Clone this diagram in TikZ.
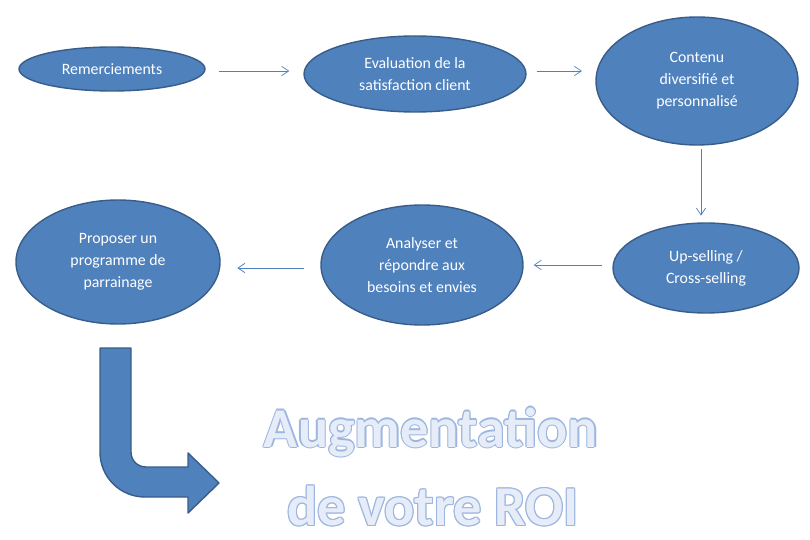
\documentclass[tikz,border=0pt]{standalone}
\usepackage{fontspec}
\setmainfont{Carlito}
\usetikzlibrary{shapes.geometric,arrows.meta,positioning,calc}
\definecolor{stepfill}{HTML}{4F81BD}
\definecolor{stepline}{HTML}{385D8A}
\definecolor{roifill}{HTML}{E6EDF8}
\definecolor{roiline}{HTML}{9DB6E0}
\newcommand{\roitext}[3]{%
  \foreach \dx/\dy in {1/0,-1/0,0/1,0/-1,.7/.7,-.7/.7,.7/-.7,-.7/-.7}
    \node[roi, text=roiline] at ($(#1,#2)+(\dx pt,\dy pt)$) {#3};
  \node[roi, text=roifill] at (#1,#2) {#3};}
\begin{document}
\begin{tikzpicture}[x=0.03cm,y=-0.03cm,
  stage/.style={ellipse, draw=stepline, line width=1.2pt, fill=stepfill,
    text=white, align=center, inner sep=0pt,
    font=\fontsize{13.5}{18.7}\selectfont},
  flow/.style={-{Straight Barb[length=6pt,width=8pt]}, stepfill, line width=0.6pt},
  roi/.style={font=\fontsize{48}{52}\selectfont\bfseries, inner sep=0pt}]
  \useasboundingbox (0,0) rectangle (810,540);

  % steps
  \node[stage, minimum width=186*0.03cm, minimum height=44*0.03cm] (merci) at (112,69) {Remerciements};
  \node[stage, minimum width=222*0.03cm, minimum height=76*0.03cm] (eval) at (415,74) {Evaluation de la\\satisfaction client};
  \node[stage, minimum width=202*0.03cm, minimum height=128*0.03cm] (contenu) at (697,81) {Contenu\\diversifié et\\personnalisé};
  \node[stage, minimum width=186*0.03cm, minimum height=90*0.03cm] (upsell) at (706,268) {Up-selling /\\Cross-selling};
  \node[stage, minimum width=202*0.03cm, minimum height=120*0.03cm] (analyse) at (422,265) {Analyser et\\répondre aux\\besoins et envies};
  \node[stage, minimum width=204*0.03cm, minimum height=124*0.03cm] (parrain) at (118,262) {Proposer un\\programme de\\parrainage};

  % connectors
  \draw[flow, shorten <=13*0.03cm, shorten >=14*0.03cm] (merci.east |- 0,71) -- (eval.west |- 0,71);
  \draw[flow, shorten <=0.3cm, shorten >=0.4cm] (eval.east |- 0,71) -- (contenu.west |- 0,71);
  \draw[flow, shorten <=0.1cm, shorten >=0.2cm] (contenu.south -| 701,0) -- (upsell.north -| 701,0);
  \draw[flow, shorten <=0.3cm, shorten >=0.3cm] (upsell.west |- 0,265) -- (analyse.east |- 0,265);
  \draw[flow, shorten <=0.5cm, shorten >=0.5cm] (analyse.west |- 0,268) -- (parrain.east |- 0,268);

  % bent arrow
  \draw[stepline, fill=stepfill, line width=1.2pt, line join=round]
    (100,348) -- (131,348) -- (131,452) .. controls (131,461) and (138,467) .. (146,467)
    -- (188,467) -- (188,453) -- (219,483) -- (188,513) -- (188,497) -- (145,497)
    .. controls (120,497) and (100,477) .. (100,452) -- cycle;

  % result text
  \roitext{431}{432}{Augmentation}
  \roitext{433}{506}{de votre ROI}
\end{tikzpicture}
\end{document}
